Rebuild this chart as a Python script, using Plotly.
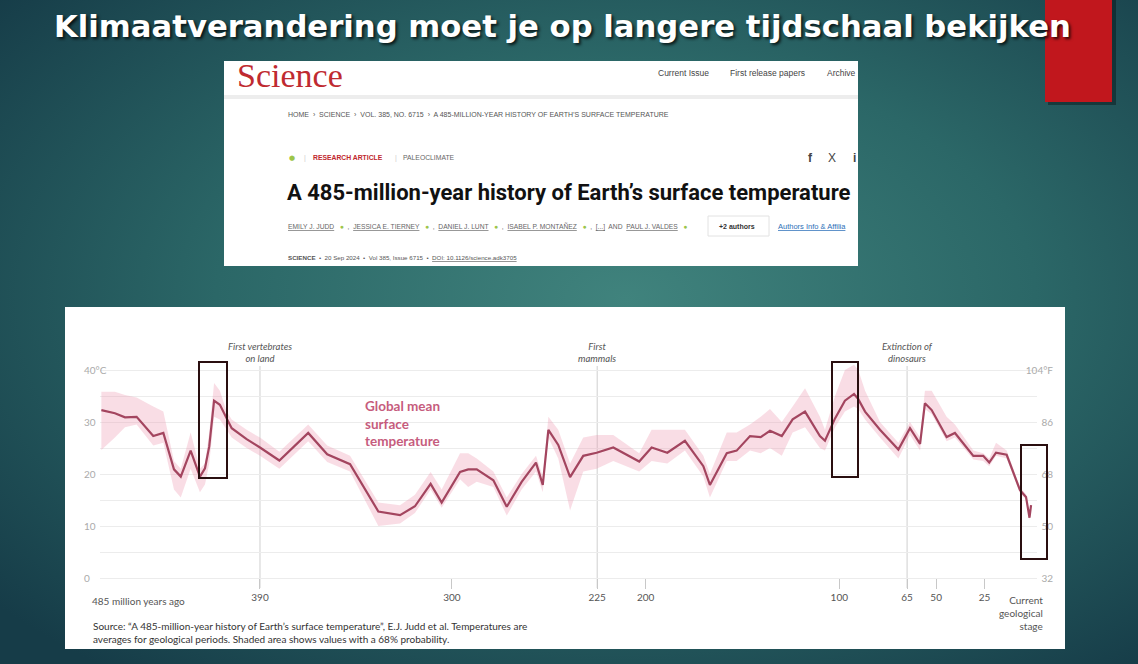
import base64
import plotly.graph_objects as go

W, H = 1138, 664

# ---------------- data ----------------
AGES = [481.0, 474.0, 468.8, 462.8, 454.2, 449.0, 443.5, 440.0, 434.9, 430.1,
        427.5, 425.3, 422.8, 419.8, 416.3, 413.7, 406.0, 399.1, 389.1, 374.2,
        364.4, 352.6, 338.0, 326.8, 319.1, 311.0, 305.3, 295.8, 291.6, 287.2,
        278.6, 271.7, 264.0, 256.6, 253.1, 250.2, 245.1, 239.0, 232.2, 225.3,
        216.7, 203.3, 196.9, 188.8, 179.7, 170.2, 166.8, 158.1, 153.0, 146.1,
        140.6, 135.8, 129.7, 124.1, 117.7, 110.0, 107.4, 102.2, 97.1, 92.4,
        90.2, 86.7, 79.0, 69.5, 63.5, 58.3, 55.8, 52.3, 44.6, 40.3,
        30.8, 25.7, 22.6, 19.1, 13.6, 6.7, 3.6, 1.8, 1.0]
TEMP = [32.3, 31.7, 30.9, 31.0, 27.3, 27.9, 20.9, 19.5, 24.5, 19.5,
        21.1, 25.3, 34.1, 33.3, 30.7, 28.8, 26.7, 25.1, 22.6, 27.9,
        23.8, 21.9, 12.8, 12.1, 13.8, 18.1, 14.5, 20.4, 20.9, 20.9,
        18.8, 13.7, 18.5, 22.2, 17.9, 28.5, 25.6, 19.4, 23.5, 24.1,
        25.1, 22.4, 25.1, 24.1, 26.4, 21.5, 17.9, 24.0, 24.5, 27.3,
        27.1, 28.3, 27.3, 30.5, 32.0, 27.3, 26.4, 30.7, 34.1, 35.4,
        34.4, 32.0, 28.5, 24.7, 28.8, 25.8, 33.6, 32.3, 27.1, 27.9,
        23.5, 23.5, 22.2, 24.1, 23.7, 16.9, 15.6, 11.6, 14.0]
TEMP_LO = [24.6, 27.0, 29.0, 29.5, 25.5, 26.0, 17.0, 15.5, 21.0, 16.5,
           18.0, 22.0, 31.0, 30.5, 28.5, 27.0, 25.0, 23.5, 21.0, 26.3,
           22.3, 20.5, 10.0, 10.5, 12.5, 17.0, 13.5, 19.0, 17.5, 18.5,
           17.5, 12.0, 17.0, 20.5, 16.5, 27.0, 23.0, 13.0, 20.5, 21.0,
           22.5, 20.5, 22.5, 22.0, 24.5, 19.5, 15.5, 22.5, 22.5, 24.5,
           24.0, 25.0, 23.5, 28.0, 29.0, 25.0, 24.5, 29.0, 32.0, 33.0,
           32.5, 30.5, 27.0, 23.0, 27.5, 24.5, 32.5, 31.5, 26.3, 27.0,
           22.8, 22.5, 21.5, 23.5, 23.0, 16.3, 15.1, 11.1, 13.5]
TEMP_HI = [35.8, 35.8, 35.2, 34.7, 33.0, 32.0, 22.5, 21.0, 28.0, 21.0,
           22.0, 28.0, 37.5, 36.0, 32.0, 30.5, 28.5, 27.0, 24.3, 29.5,
           25.5, 23.5, 14.5, 14.0, 16.0, 20.4, 17.0, 24.0, 24.0, 23.0,
           20.5, 15.5, 20.0, 23.5, 19.5, 31.0, 28.5, 22.0, 27.0, 27.5,
           27.5, 24.0, 28.5, 28.5, 28.5, 23.5, 20.0, 28.0, 28.0, 29.5,
           31.0, 32.5, 30.0, 33.0, 36.5, 31.0, 28.5, 35.0, 40.0, 41.0,
           40.0, 36.0, 30.0, 26.0, 30.0, 27.0, 36.0, 36.0, 31.0, 29.5,
           24.5, 24.0, 23.0, 26.0, 24.5, 17.5, 16.1, 12.1, 14.5]

TICK_AGES = [481.2, 399.1, 300, 225, 200, 100, 65, 50, 25, 0]
TICK_TEXT = ["", "390", "300", "225", "200", "100", "65", "50", "25", ""]
C_TICKS = [0, 5, 10, 15, 20, 25, 30, 35, 40]
C_TEXT = ["0", "", "10", "", "20", "", "30", "", "40°C"]
F_TICKS = [32, 50, 68, 86, 104]
F_TEXT = ["32", "50", "68", "86", "104°F"]
EVENT_AGES = [399.1, 225, 65]
EVENT_TEXT = ["First vertebrates<br>on land", "First<br>mammals", "Extinction of<br>dinosaurs"]

TITLE = "Klimaatverandering moet je op langere tijdschaal bekijken"
SOURCE = ("Source: \u201cA 485-million-year history of Earth\u2019s surface temperature\u201d, "
          "E.J. Judd et al. Temperatures are<br>averages for geological periods. "
          "Shaded area shows values with a 68% probability.")

# ---------------- helpers ----------------
def X(p):
    return p / W

def Y(p):
    return 1 - p / H

LINE_COL = "#a3455f"
BAND_COL = "rgba(236,150,175,0.32)"
Y_RANGE = [-2.69, 42.12]
X_RANGE = [481.7, -2.07]

fig = go.Figure()

# uncertainty band
fig.add_trace(go.Scatter(
    x=AGES + AGES[::-1], y=TEMP_HI + TEMP_LO[::-1],
    fill="toself", fillcolor=BAND_COL, line=dict(width=0),
    mode="lines", hoverinfo="skip", showlegend=False))
# mean line
fig.add_trace(go.Scatter(
    x=AGES, y=TEMP, mode="lines",
    line=dict(color=LINE_COL, width=2.2), showlegend=False))
# Fahrenheit axis carrier
fig.add_trace(go.Scatter(x=[None], y=[None], yaxis="y2", showlegend=False))

# ---------------- background ----------------
svg = ('<svg xmlns="http://www.w3.org/2000/svg" width="1138" height="664">'
       '<defs><radialGradient id="g" cx="0.55" cy="0.45" r="0.72">'
       '<stop offset="0" stop-color="#40837d"/>'
       '<stop offset="0.5" stop-color="#2b6767"/>'
       '<stop offset="1" stop-color="#163c48"/>'
       '</radialGradient></defs>'
       '<rect width="1138" height="664" fill="url(#g)"/></svg>')
bg_src = "data:image/svg+xml;base64," + base64.b64encode(svg.encode()).decode()

shapes = []
# red corner block (with shadow)
shapes.append(dict(type="rect", xref="paper", yref="paper", layer="below",
                   x0=X(1048), x1=X(1116), y0=Y(105), y1=Y(0),
                   fillcolor="rgba(0,0,0,0.35)", line=dict(width=0)))
shapes.append(dict(type="rect", xref="paper", yref="paper", layer="below",
                   x0=X(1045), x1=X(1112), y0=Y(102), y1=Y(0),
                   fillcolor="#c1171d", line=dict(width=0)))
# Science screenshot box
shapes.append(dict(type="rect", xref="paper", yref="paper", layer="below",
                   x0=X(224), x1=X(858), y0=Y(266), y1=Y(61),
                   fillcolor="white", line=dict(width=0)))
shapes.append(dict(type="rect", xref="paper", yref="paper", layer="below",
                   x0=X(224), x1=X(858), y0=Y(99), y1=Y(95),
                   fillcolor="#ededed", line=dict(width=0)))
# +2 authors pill
shapes.append(dict(type="rect", xref="paper", yref="paper", layer="below",
                   x0=X(708), x1=X(769), y0=Y(236), y1=Y(216),
                   fillcolor="white", line=dict(color="#e2e2e2", width=1)))
# chart box
shapes.append(dict(type="rect", xref="paper", yref="paper", layer="below",
                   x0=X(65), x1=X(1065), y0=Y(649), y1=Y(307),
                   fillcolor="white", line=dict(width=0)))
# event lines
for a in EVENT_AGES:
    shapes.append(dict(type="line", xref="x", yref="paper", layer="below",
                       x0=a, x1=a, y0=Y(588), y1=Y(366),
                       line=dict(color="#cfcfcf", width=1)))
# highlight boxes drawn on the slide
for (l, t, r, b) in [(199, 362, 227, 478), (832, 362, 858, 477), (1021, 445, 1047, 559)]:
    shapes.append(dict(type="rect", xref="paper", yref="paper", layer="above",
                       x0=X(l), x1=X(r), y0=Y(b), y1=Y(t),
                       line=dict(color="#2a0f10", width=2)))

ann = []

def txt(x, y, text, size, color, family="Lato", xanchor="left", yanchor="middle",
        align="left", **kw):
    ann.append(dict(x=x, y=y, xref="paper", yref="paper", text=text, showarrow=False,
                    xanchor=xanchor, yanchor=yanchor, align=align,
                    font=dict(size=size, color=color, family=family, **kw)))

# slide title
txt(X(562), Y(27), "<b>" + TITLE + "</b>", 30.7, "white", family="DejaVu Sans",
    xanchor="center", shadow="2px 2px 3px rgba(0,0,0,0.75)")

# --- Science screenshot content ---
txt(X(235), Y(76), "Science", 34, "#bf2a30", family="Liberation Serif")
txt(X(656), Y(73), "Current Issue", 8.5, "#444", family="Liberation Sans")
txt(X(728), Y(73), "First release papers", 8.5, "#444", family="Liberation Sans")
txt(X(825), Y(73), "Archive", 8.5, "#444", family="Liberation Sans")
txt(X(286), Y(114),
    "HOME  \u203a  SCIENCE  \u203a  VOL. 385, NO. 6715  \u203a  A 485-MILLION-YEAR HISTORY OF EARTH\u2019S SURFACE TEMPERATURE",
    7, "#555", family="Liberation Sans")
txt(X(287), Y(158), "\u25cf", 7, "#9cc54a", family="DejaVu Sans")
txt(X(302), Y(158), "|", 7, "#ccc", family="Liberation Sans")
txt(X(311), Y(158), "<b>RESEARCH ARTICLE</b>", 6.8, "#c0272d", family="Liberation Sans")
txt(X(393), Y(158), "|", 7, "#ccc", family="Liberation Sans")
txt(X(401), Y(158), "PALEOCLIMATE", 6.8, "#666", family="Liberation Sans")
txt(X(806), Y(158), "<b>f</b>", 12, "#444", family="Liberation Sans")
txt(X(826), Y(158), "X", 12, "#444", family="Liberation Sans")
txt(X(851), Y(158), "<b>i</b>", 12, "#444", family="Liberation Sans")
txt(X(285), Y(192), "<b>A 485-million-year history of Earth\u2019s surface temperature</b>",
    22, "#111", family="Roboto")
g = "<span style='color:#9cc54a'>\u25cf</span>"
txt(X(286), Y(226),
    "<u>EMILY J. JUDD</u>   " + g + "  ,  <u>JESSICA E. TIERNEY</u>   " + g +
    "  ,  <u>DANIEL J. LUNT</u>   " + g + "  ,  <u>ISABEL P. MONTA\u00d1EZ</u>   " + g +
    "  ,  <u>[...]</u>  AND  <u>PAUL J. VALDES</u>   " + g,
    6.7, "#666", family="Liberation Sans")
txt(X(717), Y(226), "<b>+2 authors</b>", 7, "#333", family="Liberation Sans")
txt(X(776), Y(226), "<u>Authors Info & Affilia</u>", 7.5, "#2d6fb8", family="Liberation Sans")
txt(X(286), Y(258),
    "<b>SCIENCE</b>  \u2022  20 Sep 2024  \u2022  Vol 385, Issue 6715  \u2022  <u>DOI: 10.1126/science.adk3705</u>",
    6.2, "#555", family="Liberation Sans")

# --- chart annotations ---
for a, t in zip(EVENT_AGES, EVENT_TEXT):
    ann.append(dict(x=a, y=Y(353), xref="x", yref="paper", text="<i>" + t + "</i>",
                    showarrow=False, xanchor="center", yanchor="middle",
                    font=dict(size=9.5, color="#555", family="Lato")))
txt(X(363), Y(424), "<b>Global mean<br>surface<br>temperature</b>", 13.5, "#c65c7d",
    family="Lato")
txt(X(90), Y(601), "485 million years ago", 10, "#555", family="Lato")
txt(X(1045), Y(592), "Current<br>geological<br>stage", 10, "#555", family="Lato",
    xanchor="right", yanchor="top", align="right")
txt(X(91), Y(632), SOURCE, 10, "#333", family="Lato")

fig.update_layout(
    width=W, height=H, autosize=False,
    margin=dict(l=0, r=0, t=0, b=0),
    paper_bgcolor="#245c60", plot_bgcolor="rgba(0,0,0,0)",
    images=[dict(source=bg_src, xref="paper", yref="paper", x=0, y=1, sizex=1, sizey=1,
                 xanchor="left", yanchor="top", sizing="stretch", layer="below")],
    shapes=shapes, annotations=ann, showlegend=False,
    xaxis=dict(domain=[X(100), X(1037)], range=X_RANGE, showgrid=False, zeroline=False,
               showline=False, ticks="outside", ticklen=10, tickwidth=1,
               tickcolor="#c8c8c8", tickvals=TICK_AGES, ticktext=TICK_TEXT,
               tickfont=dict(size=10, color="#555", family="Lato"),
               anchor="free", position=Y(578)),
    yaxis=dict(domain=[Y(592), Y(359)], range=Y_RANGE, anchor="free", position=X(80),
               ticklabelposition="inside", tickvals=C_TICKS, ticktext=C_TEXT,
               showgrid=True, gridcolor="#ececec", gridwidth=1, zeroline=False,
               showline=False, ticks="",
               tickfont=dict(size=10, color="#aaa", family="Lato")),
    yaxis2=dict(overlaying="y", side="right", anchor="free", position=X(1056),
                range=[Y_RANGE[0] * 1.8 + 32, Y_RANGE[1] * 1.8 + 32],
                ticklabelposition="inside", tickvals=F_TICKS, ticktext=F_TEXT,
                showgrid=False, zeroline=False, showline=False, ticks="",
                tickfont=dict(size=10, color="#aaa", family="Lato")),
)

fig.write_html("out.html", config={"displayModeBar": False},
               post_script="document.body.style.margin='0';")
